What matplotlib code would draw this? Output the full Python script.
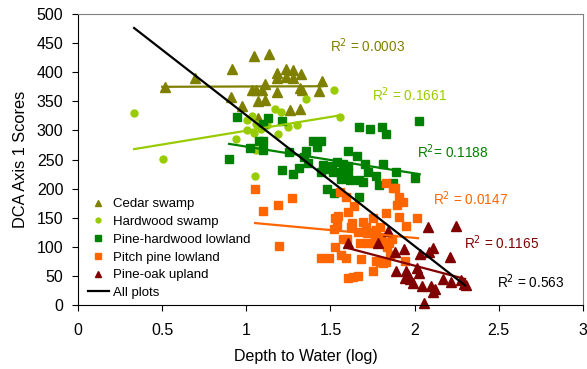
import matplotlib.pyplot as plt

plt.rcParams['font.family'] = ['Liberation Sans', 'DejaVu Sans']

# Cedar swamp
cedar_x = [0.517, 0.695, 0.915, 1.046, 1.135, 0.909, 0.974, 1.034, 1.058, 1.093,
           1.111, 1.070, 1.111, 1.182, 1.182, 1.182, 1.236, 1.277, 1.236, 1.277,
           1.325, 1.450, 1.319, 1.331, 1.432, 1.260, 1.319, 1.070]
cedar_y = [375, 390, 405, 428, 431, 357, 342, 369, 369, 369,
           380, 351, 352, 366, 399, 390, 405, 404, 392, 390,
           397, 385, 373, 369, 368, 335, 337, 321]

# Hardwood swamp
hard_x = [0.333, 0.505, 0.939, 1.004, 1.046, 1.004, 1.058, 1.087, 1.058, 1.052,
          1.171, 1.206, 1.188, 1.248, 1.301, 1.123, 1.355, 1.521, 1.557, 1.034]
hard_y = [330, 251, 285, 301, 296, 318, 311, 302, 266, 222,
          337, 332, 294, 306, 309, 309, 354, 369, 323, 325]

# Pine-hardwood lowland
phl_x = [0.945, 1.129, 1.099, 1.212, 0.897, 1.022, 1.075, 1.099, 1.099, 1.254,
         1.212, 1.277, 1.313, 1.396, 1.444, 1.420, 1.355, 1.343, 1.367, 1.456,
         1.509, 1.539, 1.575, 1.604, 1.485, 1.444, 1.515, 1.563, 1.604, 1.563,
         1.616, 1.670, 1.693, 1.479, 1.521, 1.670, 1.604, 1.658, 1.705, 1.812,
         1.723, 1.771, 1.788, 1.872, 1.889, 2.002, 2.026, 1.670, 1.735, 1.806,
         1.830]
phl_y = [323, 321, 311, 316, 251, 270, 282, 282, 266, 263,
         232, 225, 235, 282, 282, 271, 265, 254, 244, 241,
         239, 246, 242, 239, 234, 229, 229, 229, 229, 216,
         215, 215, 211, 199, 192, 186, 265, 256, 242, 242,
         229, 222, 206, 210, 229, 218, 316, 306, 302, 306,
         294]

# Pitch pine lowland
pp_x = [1.052, 1.099, 1.188, 1.272, 1.194, 1.557, 1.592, 1.604, 1.527, 1.539,
        1.521, 1.545, 1.527, 1.575, 1.563, 1.592, 1.444, 1.491, 1.604, 1.634,
        1.664, 1.640, 1.693, 1.753, 1.907, 2.014, 1.830, 1.895, 1.830, 1.872,
        1.884, 1.907, 1.931, 1.949, 1.794, 1.711, 1.717, 1.753, 1.771, 1.765,
        1.800, 1.664, 1.598, 1.676, 1.723, 1.753, 1.812, 1.848, 1.866, 1.836,
        1.682, 1.771, 1.812, 1.830, 1.943, 1.753, 1.854, 1.628, 1.622, 1.794]
pp_y = [199, 162, 172, 184, 101, 194, 186, 160, 149, 137,
        131, 153, 100, 113, 86, 81, 81, 81, 46, 48,
        50, 170, 143, 149, 151, 149, 158, 172, 210, 201,
        201, 186, 177, 136, 134, 134, 124, 125, 129, 117,
        117, 125, 113, 107, 107, 107, 108, 107, 113, 100,
        79, 76, 72, 74, 76, 58, 86, 141, 134, 74]

# Pine-oak upland
po_x = [1.604, 1.783, 1.842, 1.884, 1.937, 2.032, 2.080, 2.109, 2.086, 2.210,
        2.246, 1.889, 1.949, 1.961, 2.014, 2.026, 1.943, 1.973, 1.990, 2.044,
        2.097, 2.121, 2.109, 2.169, 2.216, 2.276, 2.293, 2.305, 2.056]
po_y = [107, 107, 127, 91, 96, 88, 134, 98, 91, 82,
        136, 58, 58, 52, 64, 55, 46, 45, 38, 33,
        33, 27, 22, 45, 40, 43, 36, 34, 3]

# trend lines (end points)
cedar_fit = ([0.50, 1.45], [375, 376])
hard_fit = ([0.333, 1.557], [268, 326])
phl_fit = ([0.897, 2.03], [277, 225])
pp_fit = ([1.052, 2.02], [141, 115])
po_fit = ([1.604, 2.30], [98, 45])
all_fit = ([0.333, 2.30], [476, 34])

r2_labels = ['R$^2$ = 0.0003', 'R$^2$ = 0.1661', 'R$^2$= 0.1188',
             'R$^2$ = 0.0147', 'R$^2$ = 0.1165', 'R$^2$ = 0.563']
r2_x = [1.497, 1.747, 2.014, 2.109, 2.293, 2.49]
r2_y = [445, 362, 263, 182, 107, 40]

c_cedar = '#808000'
c_hard = '#99CC00'
c_phl = '#008000'
c_pp = '#FF6600'
c_po = '#800000'

fig = plt.figure(figsize=(5.87, 3.69), dpi=100)
ax = fig.add_axes([0.133, 0.173, 0.860, 0.789])

ax.plot(cedar_x, cedar_y, '^', color=c_cedar, ms=6.5, ls='none', label='Cedar swamp')
ax.plot(hard_x, hard_y, 'o', color=c_hard, ms=5, ls='none', label='Hardwood swamp')
ax.plot(phl_x, phl_y, 's', color=c_phl, ms=5.3, ls='none', label='Pine-hardwood lowland')
ax.plot(pp_x, pp_y, 's', color=c_pp, ms=5.3, ls='none', label='Pitch pine lowland')
ax.plot(po_x, po_y, '^', color=c_po, ms=6.5, ls='none', label='Pine-oak upland', clip_on=False)

ax.plot(*cedar_fit, color=c_cedar, lw=1.6)
ax.plot(*hard_fit, color=c_hard, lw=1.6)
ax.plot(*phl_fit, color=c_phl, lw=1.6)
ax.plot(*pp_fit, color=c_pp, lw=1.6)
ax.plot(*po_fit, color=c_po, lw=1.6)
ax.plot(*all_fit, color='black', lw=1.6, label='All plots')

for lab, x, y, c in zip(r2_labels, r2_x, r2_y, [c_cedar, c_hard, c_phl, c_pp, c_po, 'black']):
    ax.text(x, y, lab, color=c, fontsize=9.8, va='center', ha='left')

ax.set_xlim(0, 3)
ax.set_ylim(0, 500)
ax.set_xticks([0, 0.5, 1, 1.5, 2, 2.5, 3])
ax.set_xticklabels(['0', '0.5', '1', '1.5', '2', '2.5', '3'])
ax.set_yticks(range(0, 501, 50))
ax.tick_params(labelsize=11.5, length=4, direction='out')
ax.tick_params(axis='x', pad=9)
ax.tick_params(axis='y', pad=6.5)
ax.set_xlabel('Depth to Water (log)', fontsize=11.5, x=0.451, labelpad=7.5)
ax.set_ylabel('DCA Axis 1 Scores', fontsize=11.8, labelpad=6)
for s in ['top', 'right']:
    ax.spines[s].set_color('#808080')

leg = ax.legend(loc='lower left', bbox_to_anchor=(-0.004, -0.02), frameon=False,
                fontsize=9.5, handlelength=1.6, handletextpad=0.3,
                labelspacing=0.42, markerscale=0.7)

fig.savefig('out.png', dpi=100)
